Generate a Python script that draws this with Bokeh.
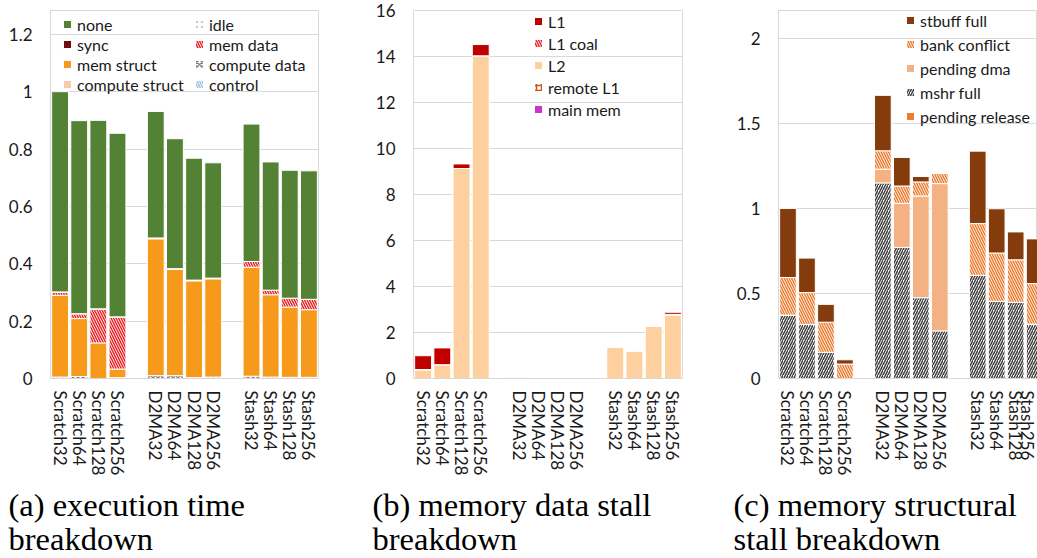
import math
from bokeh.plotting import figure
from bokeh.layouts import row, column
from bokeh.models import (Range1d, FixedTicker, Legend, LegendItem,
                          NumeralTickFormatter, ColumnDataSource)
from bokeh.core.properties import value
from bokeh.embed import file_html
from bokeh.resources import INLINE

configs = ["Scratch32", "Scratch64", "Scratch128", "Scratch256",
           "D2MA32", "D2MA64", "D2MA128", "D2MA256",
           "Stash32", "Stash64", "Stash128", "Stash256"]

# (a) execution time breakdown, stacked bottom -> top
a_control        = [0, 0, 0, 0, 0, 0, 0, 0, 0, 0, 0, 0]
a_compute_struct = [0, 0, 0, 0, 0, 0, 0, 0, 0, 0, 0, 0]
a_compute_data   = [0.005, 0.007, 0.0, 0.003, 0.010, 0.010, 0.003, 0.005, 0.008, 0.005, 0.004, 0.004]
a_mem_struct     = [0.285, 0.202, 0.124, 0.030, 0.477, 0.370, 0.338, 0.343, 0.380, 0.287, 0.245, 0.236]
a_mem_data       = [0.012, 0.017, 0.119, 0.182, 0.003, 0.0, 0.0, 0.0, 0.020, 0.016, 0.031, 0.036]
a_sync           = [0, 0, 0, 0, 0, 0.003, 0.002, 0.002, 0, 0, 0, 0]
a_idle           = [0, 0, 0, 0, 0, 0, 0, 0, 0, 0, 0, 0]
a_none           = [0.698, 0.673, 0.657, 0.640, 0.441, 0.453, 0.425, 0.402, 0.479, 0.447, 0.446, 0.448]

# (b) memory data stall breakdown, bottom -> top
b_main_mem  = [0, 0, 0, 0, 0, 0, 0, 0, 0, 0, 0, 0]
b_remote_L1 = [0, 0, 0, 0, 0, 0, 0, 0, 0, 0, 0, 0]
b_L2        = [0.37, 0.60, 9.13, 14.03, 0, 0, 0, 0, 1.35, 1.20, 2.26, 2.75]
b_L1_coal   = [0.02, 0, 0, 0, 0.01, 0, 0, 0, 0.03, 0, 0.02, 0.04]
b_L1        = [0.60, 0.73, 0.20, 0.49, 0.03, 0, 0, 0, 0, 0, 0, 0.09]

# (c) memory structural stall breakdown, bottom -> top
c_pending_release = [0, 0, 0, 0, 0, 0, 0, 0, 0, 0, 0, 0]
c_mshr_full       = [0.373, 0.318, 0.154, 0.0, 1.150, 0.771, 0.475, 0.280, 0.607, 0.454, 0.448, 0.320]
c_pending_dma     = [0, 0, 0, 0, 0.081, 0.259, 0.598, 0.866, 0, 0, 0, 0]
c_bank_conflict   = [0.221, 0.187, 0.177, 0.085, 0.108, 0.102, 0.083, 0.061, 0.304, 0.284, 0.250, 0.238]
c_stbuff_full     = [0.406, 0.203, 0.105, 0.025, 0.326, 0.168, 0.032, 0.0, 0.426, 0.260, 0.164, 0.263]

a_yticks = [0, 0.2, 0.4, 0.6, 0.8, 1.0, 1.2]
b_yticks = [0, 2, 4, 6, 8, 10, 12, 14, 16]
c_yticks = [0, 0.5, 1.0, 1.5, 2.0]

caption_line1 = ["(a) execution time", "(b) memory data stall", "(c) memory structural"]
caption_line2 = ["breakdown", "breakdown", "stall breakdown"]

SANS = "Lato"
SERIF = "Liberation Serif"
GRID = "#d9d9d9"
TXT = "#1a1a1a"

# panel widths (layout) and slot positions: one empty slot between groups
FIG_W = [372, 361, 304]
MAIN_H = 478
xpos = [i + i // 4 for i in range(len(configs))]


def make_fig(width, top, left, right, y_end, yticks, x_end):
    p = figure(width=width, height=MAIN_H, x_range=Range1d(-0.5, x_end),
               y_range=Range1d(0, y_end), output_backend="svg", title=None,
               toolbar_location=None, min_border_top=top, min_border_bottom=100,
               min_border_left=left, min_border_right=right)
    p.outline_line_color = GRID
    p.outline_line_width = 1
    p.background_fill_color = "white"
    p.border_fill_color = "white"
    p.xgrid.visible = False
    p.ygrid.grid_line_color = GRID
    p.ygrid.grid_line_width = 1
    p.yaxis.ticker = FixedTicker(ticks=yticks)
    p.yaxis.formatter = NumeralTickFormatter(format="0.[0]")
    p.yaxis.axis_line_color = None
    p.yaxis.major_tick_line_color = None
    p.yaxis.minor_tick_line_color = None
    p.yaxis.major_tick_out = 0
    p.yaxis.minor_tick_out = 0
    p.yaxis.major_label_standoff = 18
    p.yaxis.major_label_text_font = SANS
    p.yaxis.major_label_text_font_size = "17px"
    p.yaxis.major_label_text_color = TXT
    p.xaxis.ticker = FixedTicker(ticks=xpos)
    p.xaxis.major_label_overrides = {x: c for x, c in zip(xpos, configs)}
    p.xaxis.major_label_orientation = -math.pi / 2
    p.xaxis.axis_line_color = GRID
    p.xaxis.major_tick_line_color = None
    p.xaxis.minor_tick_line_color = None
    p.xaxis.major_tick_out = 0
    p.xaxis.minor_tick_out = 0
    p.xaxis.major_label_standoff = 12
    p.xaxis.major_label_text_font = SANS
    p.xaxis.major_label_text_font_size = "17px"
    p.xaxis.major_label_text_color = TXT
    return p


def stack(p, src, names, styles):
    rs = p.vbar_stack(names, x="x", width=0.88, source=src,
                      fill_color=[s[0] for s in styles],
                      hatch_pattern=[s[1] for s in styles],
                      hatch_color=[s[2] for s in styles],
                      hatch_scale=5, hatch_weight=1.5,
                      line_color="white", line_width=1)
    return dict(zip(names, rs))


def add_legend(p, rs, labels_keys, x, y, spacing, label_h=20):
    items = [LegendItem(label=lab, renderers=[rs[k]]) for lab, k in labels_keys]
    lg = Legend(items=items, location=(x, y), margin=0, padding=0, spacing=spacing,
                glyph_width=10, glyph_height=10, label_height=label_h, label_standoff=5,
                label_text_font=SANS, label_text_font_size="16px", label_text_color=TXT,
                background_fill_alpha=0, border_line_color=None)
    p.add_layout(lg, "center")


# ---------------- (a) ----------------
pa = make_fig(FIG_W[0], 5, 50, 54, 1.283, a_yticks, 13.5)
src_a = ColumnDataSource(dict(x=xpos, control=a_control, compute_struct=a_compute_struct,
                              compute_data=a_compute_data, mem_struct=a_mem_struct,
                              mem_data=a_mem_data, sync=a_sync, idle=a_idle, none=a_none))
a_names = ["control", "compute_struct", "compute_data", "mem_struct", "mem_data", "sync", "idle", "none"]
a_styles = [("white", "\\", "#9dc3e6"),
            ("#f8cbad", None, "#f8cbad"),
            ("white", "x", "#7f7f7f"),
            ("#f79a1b", None, "#f79a1b"),
            ("white", "\\", "#e8262a"),
            ("#700e0e", None, "#700e0e"),
            ("white", ".", "#c8c8c8"),
            ("#548235", None, "#548235")]
ra = stack(pa, src_a, a_names, a_styles)
add_legend(pa, ra, [("none", "none"), ("sync", "sync"), ("mem struct", "mem_struct"),
                    ("compute struct", "compute_struct")], 12, 284, 0)
add_legend(pa, ra, [("idle", "idle"), ("mem data", "mem_data"), ("compute data", "compute_data"),
                    ("control", "control")], 144, 284, 0)

# ---------------- (b) ----------------
pb = make_fig(FIG_W[1], 10, 39, 51, 16, b_yticks, 13.5)
src_b = ColumnDataSource(dict(x=xpos, main_mem=b_main_mem, remote_L1=b_remote_L1, L2=b_L2,
                              L1_coal=b_L1_coal, L1=b_L1))
b_names = ["main_mem", "remote_L1", "L2", "L1_coal", "L1"]
b_styles = [("#cc33cc", None, "#cc33cc"),
            ("white", "+", "#c55a11"),
            ("#fed0a0", None, "#fed0a0"),
            ("white", "\\", "#e8262a"),
            ("#c00000", None, "#c00000")]
rb = stack(pb, src_b, b_names, b_styles)
add_legend(pb, rb, [("L1", "L1"), ("L1 coal", "L1_coal"), ("L2", "L2"),
                    ("remote L1", "remote_L1"), ("main mem", "main_mem")], 120, 259, 2)

# ---------------- (c) ----------------
pc = make_fig(FIG_W[2], 6, 42, 0, 2.164, c_yticks, 13.15)
src_c = ColumnDataSource(dict(x=xpos, pending_release=c_pending_release, mshr_full=c_mshr_full,
                              pending_dma=c_pending_dma, bank_conflict=c_bank_conflict,
                              stbuff_full=c_stbuff_full))
c_names = ["pending_release", "mshr_full", "pending_dma", "bank_conflict", "stbuff_full"]
c_styles = [("#ed7d31", None, "#ed7d31"),
            ("white", "/", "#404040"),
            ("#f4b183", None, "#f4b183"),
            ("white", "\\", "#ed7d31"),
            ("#843c0c", None, "#843c0c")]
rc = stack(pc, src_c, c_names, c_styles)
add_legend(pc, rc, [("stbuff full", "stbuff_full"), ("bank conflict", "bank_conflict"),
                    ("pending dma", "pending_dma"), ("mshr full", "mshr_full"),
                    ("pending release", "pending_release")], 127, 252, 4)

# ---------------- captions (a strip below the three panels, pixel coordinates) ----------------
CAP_H = 80
total_w = sum(FIG_W)
cap = figure(width=total_w, height=CAP_H, x_range=Range1d(0, total_w), y_range=Range1d(CAP_H, 0),
             output_backend="svg", toolbar_location=None, min_border=0, title=None,
             x_axis_location=None, y_axis_location=None)
cap.grid.visible = False
cap.outline_line_color = None
cap_left = [8, FIG_W[0], FIG_W[0] + FIG_W[1]]
cap_src = ColumnDataSource(dict(x=cap_left + cap_left,
                                y=[26] * 3 + [60] * 3,
                                text=caption_line1 + caption_line2))
cap.text(x="x", y="y", text="text", source=cap_src, text_font=value(SERIF),
         text_font_size="32.5px", text_color="black", text_align="left",
         text_baseline="alphabetic")

layout = column(row(pa, pb, pc, spacing=0), cap, spacing=0)
open("out.html", "w").write(file_html(layout, INLINE))
